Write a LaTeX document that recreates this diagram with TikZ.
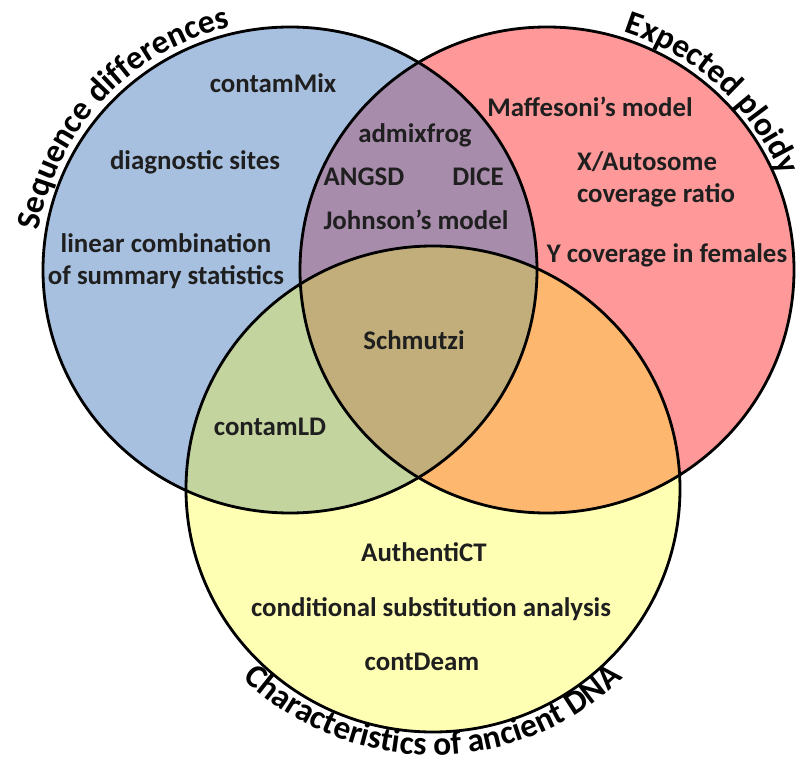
\documentclass[tikz,border=0pt]{standalone}
\usepackage{fontspec}
\setmainfont{Carlito}
\usetikzlibrary{decorations.text}
\definecolor{setblue}{RGB}{168,192,224}
\definecolor{setred}{RGB}{255,153,153}
\definecolor{setyellow}{RGB}{255,255,180}
\definecolor{setpurple}{RGB}{168,140,172}
\definecolor{setgreen}{RGB}{196,212,158}
\definecolor{setorange}{RGB}{253,183,111}
\definecolor{setbrown}{RGB}{194,174,122}
\begin{document}
\begin{tikzpicture}[x=0.02cm, y=0.02cm,
  method/.style={font=\bfseries\fontsize{15.3}{18.2}\selectfont, text=black!88, align=center, inner sep=0pt},
  rim/.style={line width=1.6pt},
  setshape/.style={x radius=247, y radius=243}]
\useasboundingbox (0,0) rectangle (799,769);
\coordinate (seq) at (290,499);
\coordinate (plo) at (547,499);
\coordinate (anc) at (433,280);
\fill[setblue] (seq) ellipse [setshape];
\fill[setred] (plo) ellipse [setshape];
\fill[setyellow] (anc) ellipse [setshape];
\begin{scope}
\clip (plo) ellipse [setshape];
\fill[setorange] (anc) ellipse [setshape];
\end{scope}
\begin{scope}
\clip (seq) ellipse [setshape];
\fill[setpurple] (plo) ellipse [setshape];
\fill[setgreen] (anc) ellipse [setshape];
\clip (plo) ellipse [setshape];
\fill[setbrown] (anc) ellipse [setshape];
\end{scope}
\draw[rim] (seq) ellipse [setshape];
\draw[rim] (plo) ellipse [setshape];
\draw[rim] (anc) ellipse [setshape];
\path[decorate, decoration={text along path, text align=center,
  text={|\bfseries\fontsize{19}{21}\selectfont|Sequence differences}}]
  (seq) ++(200:{254 and 250}) arc [start angle=200, end angle=75, x radius=254, y radius=250];
\path[decorate, decoration={text along path, text align=center,
  text={|\bfseries\fontsize{19}{21}\selectfont|Expected ploidy}}]
  (plo) ++(107:{252 and 250}) arc [start angle=107, end angle=-13, x radius=252, y radius=250];
\path[decorate, decoration={text along path, text align=center,
  text={|\bfseries\fontsize{19}{21}\selectfont|Characteristics of ancient DNA}}]
  (anc) ++(200:{270 and 266}) arc [start angle=200, end angle=340, x radius=270, y radius=266];
\node[method] (contammix) at (273,686) {contamMix};
\node[method] (diagsites) at (195,607) {diagnostic sites};
\node[method] (lincomb) at (166,508) {linear combination\\of summary statistics};
\node[method] (admixfrog) at (415,634) {admixfrog};
\node[method] (angsd) at (364,592) {ANGSD};
\node[method] (dice) at (478,592) {DICE};
\node[method] (johnson) at (416,549) {Johnson’s model};
\node[method] (maffesoni) at (590,662) {Maffesoni’s model};
\node[method, align=left] (xauto) at (656,590) {X/Autosome\\coverage ratio};
\node[method] (ycov) at (667,514) {Y coverage in females};
\node[method] (schmutzi) at (414,429) {Schmutzi};
\node[method] (contamld) at (270,342) {contamLD};
\node[method] (authentict) at (424,217) {AuthentiCT};
\node[method] (condsub) at (431,160) {conditional substitution analysis};
\node[method] (contdeam) at (422,107) {contDeam};
\end{tikzpicture}
\end{document}
